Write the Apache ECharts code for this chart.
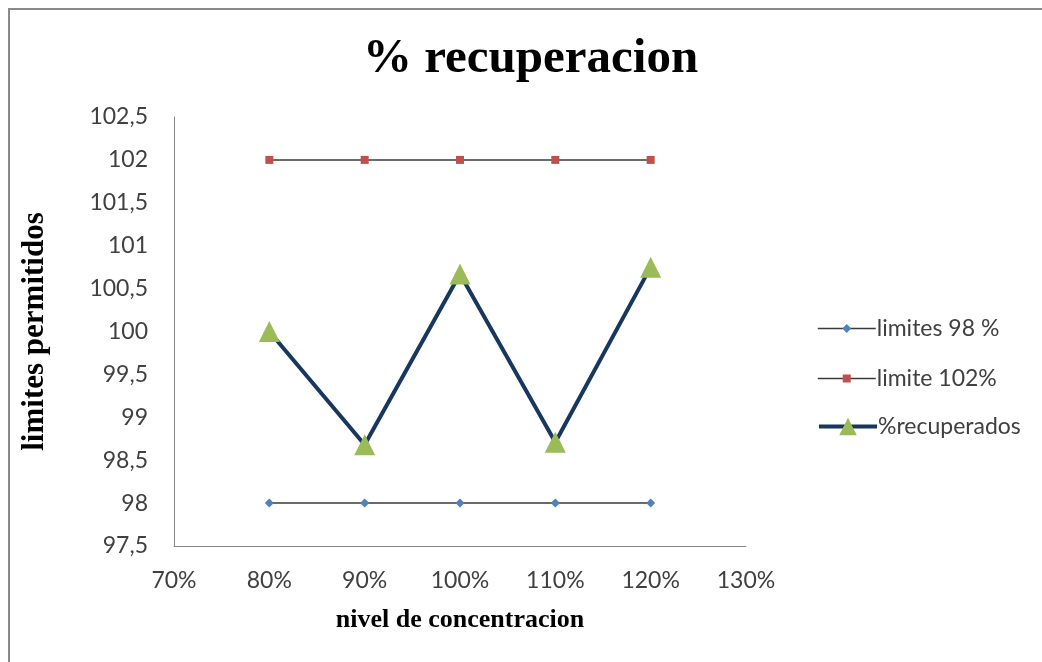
<!DOCTYPE html>
<html><head><meta charset="utf-8">
<script src="https://cdn.jsdelivr.net/npm/echarts@6/dist/echarts.min.js"></script>
<style>html,body{margin:0;padding:0;background:#fff}#c{width:1042px;height:662px}</style>
</head><body><div id="c"></div>
<script>
const levels = [80, 90, 100, 110, 120];
const lim98 = [98, 98, 98, 98, 98];
const lim102 = [102, 102, 102, 102, 102];
const recuperados = [100.0, 98.68, 100.67, 98.71, 100.75];
const xTicks = [70, 80, 90, 100, 110, 120, 130];
const yTicks = [97.5, 98, 98.5, 99, 99.5, 100, 100.5, 101, 101.5, 102, 102.5];
const seriesNames = ['limites 98 %', 'limite 102%', '%recuperados'];

const pair = arr => levels.map((x, i) => [x, arr[i]]);
const chart = echarts.init(document.getElementById('c'), null, {renderer: 'canvas'});
const tickFont = {fontFamily: 'Lato, "Open Sans", sans-serif', fontSize: 23, color: '#404040'};
const legendText = {fontFamily: 'Lato, "Open Sans", sans-serif', fontSize: 23, color: '#404040', padding: [0,0,0,-4]};
const legendTops = [312, 362, 410];
const legendHeights = [11, 10, 22];
chart.setOption({
  animation: false,
  backgroundColor: '#fff',
  graphic: [{type: 'rect', shape: {x: 9, y: 9, width: 1100, height: 700}, style: {fill: 'none', stroke: '#8a8a8a', lineWidth: 2}, silent: true}],
  title: {text: '% recuperacion', left: 358, top: 30,
    textStyle: {fontFamily: '"Liberation Serif", serif', fontWeight: 'bold', fontSize: 49, color: '#000'}},
  grid: {left: 174, right: 296, top: 117, bottom: 116},
  legend: seriesNames.map((n, i) => ({
    orient: 'vertical', left: 812, top: legendTops[i],
    itemWidth: 58, itemHeight: legendHeights[i], data: [n], textStyle: legendText,
    lineStyle: i === 2 ? {width: 4} : {width: 1.5}
  })),
  xAxis: {type: 'value', min: xTicks[0], max: xTicks[xTicks.length-1], interval: 10,
    name: 'nivel de concentracion', nameLocation: 'middle', nameGap: 61,
    nameTextStyle: {fontFamily: '"Liberation Serif", serif', fontWeight: 'bold', fontSize: 26, color: '#000'},
    axisLine: {lineStyle: {color: '#868686', width: 1}}, axisTick: {show: false}, splitLine: {show: false},
    axisLabel: Object.assign({margin: 23, formatter: v => v + '%'}, tickFont)},
  yAxis: {type: 'value', min: yTicks[0], max: yTicks[yTicks.length-1], interval: 0.5,
    name: 'limites permitidos', nameLocation: 'middle', nameGap: 124, nameRotate: 90,
    nameTextStyle: {fontFamily: '"Liberation Serif", serif', fontWeight: 'bold', fontSize: 31, color: '#000'},
    axisLine: {show: true, lineStyle: {color: '#868686', width: 1}}, axisTick: {show: false}, splitLine: {show: false},
    axisLabel: Object.assign({margin: 26, formatter: v => String(v).replace('.', ',')}, tickFont)},
  series: [
    {name: seriesNames[0], type: 'line', data: pair(lim98), symbol: 'diamond', symbolSize: 9,
      lineStyle: {color: '#3a3a3a', width: 1.5}, itemStyle: {color: '#4F81BD'}},
    {name: seriesNames[1], type: 'line', data: pair(lim102), symbol: 'rect', symbolSize: 8,
      lineStyle: {color: '#3a3a3a', width: 1.5}, itemStyle: {color: '#C0504D'}},
    {name: seriesNames[2], type: 'line', data: pair(recuperados), symbol: 'triangle', symbolSize: 21,
      lineStyle: {color: '#17375E', width: 4}, itemStyle: {color: '#9BBB59'}}
  ]
});
</script></body></html>
